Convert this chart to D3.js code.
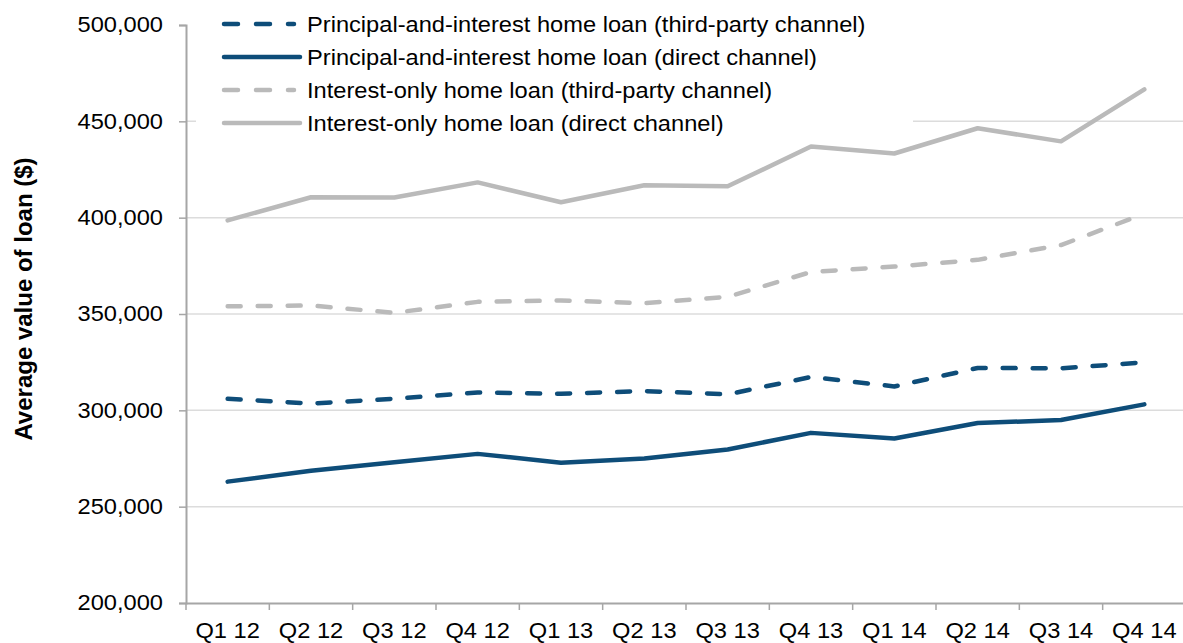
<!DOCTYPE html>
<html>
<head>
<meta charset="utf-8">
<script src="https://cdn.jsdelivr.net/npm/d3@7"></script>
<style>
  body { margin: 0; background: #fff; }
  text { font-family: "Liberation Sans", Arial, sans-serif; fill: #000; }
  .wide { transform-box: fill-box; }
</style>
</head>
<body>
<div id="vis"></div>
<script>
const QUARTERS = ["Q1 12", "Q2 12", "Q3 12", "Q4 12", "Q1 13", "Q2 13", "Q3 13", "Q4 13", "Q1 14", "Q2 14", "Q3 14", "Q4 14"];

const PI_THIRD = [306000, 303500, 306000, 309300, 308600, 310000, 308300, 317300, 312400, 322000, 321800, 324900];
const PI_DIRECT = [263000, 268600, 273000, 277400, 272800, 275000, 279700, 288300, 285400, 293400, 295000, 303100];
const IO_THIRD = [354000, 354400, 350600, 356300, 357000, 355600, 358900, 371800, 374600, 378100, 385800, 402000];
const IO_DIRECT = [398600, 410600, 410500, 418300, 408000, 416800, 416300, 436900, 433300, 446400, 439600, 466600];

const SERIES_NAMES = [
  "Principal-and-interest home loan (third-party channel)",
  "Principal-and-interest home loan (direct channel)",
  "Interest-only home loan (third-party channel)",
  "Interest-only home loan (direct channel)"
];
const Y_TICKS = [200000, 250000, 300000, 350000, 400000, 450000, 500000];

const NAVY = "#0e4d79";
const GREY = "#bababa";
const AXIS_GREY = "#a6a6a6";
const STRETCH = 1.1; // el texto del original esta algo ensanchado

const WIDTH = 1183;
const HEIGHT = 643;
const MARGIN = { top: 25, left: 186 };
const PLOT_BOTTOM = 603;

const SVG = d3.select("#vis").append("svg")
  .attr("width", WIDTH).attr("height", HEIGHT);

// escalas ---------------------------------------------------------------
const x = d3.scaleBand().domain(QUARTERS).range([MARGIN.left, MARGIN.left + 1000]).padding(0);
const y = d3.scaleLinear().domain([200000, 500000]).range([PLOT_BOTTOM, MARGIN.top]);

// grilla
SVG.append("g")
  .selectAll("line")
  .data(Y_TICKS.filter(d => d > 200000 && d < 500000))
  .join("line")
  .attr("x1", MARGIN.left).attr("x2", WIDTH)
  .attr("y1", d => y(d)).attr("y2", d => y(d))
  .attr("stroke", "#dcdcdc").attr("stroke-width", 1.5);

// ejes
const yAxis = SVG.append("g")
  .attr("transform", `translate(${MARGIN.left},0)`)
  .call(d3.axisLeft(y).tickValues(Y_TICKS).tickFormat(d3.format(",")).tickSize(7).tickPadding(16));

const xAxis = SVG.append("g")
  .attr("transform", `translate(0,${PLOT_BOTTOM})`)
  .call(d3.axisBottom(x).tickSize(0));

// ticks del eje x en los bordes de cada categoria
xAxis.selectAll(".edge")
  .data(QUARTERS)
  .join("line")
  .attr("class", "edge")
  .attr("x1", d => x(d)).attr("x2", d => x(d))
  .attr("y1", 0).attr("y2", 7)
  .attr("stroke", AXIS_GREY).attr("stroke-width", 1.5);

[yAxis, xAxis].forEach(g => {
  g.select(".domain").attr("stroke", AXIS_GREY).attr("stroke-width", 2);
  g.selectAll(".tick line").attr("stroke", AXIS_GREY).attr("stroke-width", 1.5);
  g.selectAll("text").style("font-size", "21.5px").attr("fill", "#111").classed("wide", true);
});
yAxis.selectAll(".tick text")
  .style("transform-origin", "right center")
  .style("transform", `scaleX(${STRETCH})`);
xAxis.selectAll(".tick text")
  .attr("y", 35).attr("dy", 0)
  .style("transform-origin", "center")
  .style("transform", `scaleX(${STRETCH})`);

// titulo eje y
SVG.append("text")
  .attr("transform", `translate(32,299) rotate(-90)`)
  .attr("text-anchor", "middle")
  .style("font-size", "24px")
  .style("font-weight", "bold")
  .text("Average value of loan ($)");

// lineas ---------------------------------------------------------------
const SERIES = [
  { name: SERIES_NAMES[0], values: PI_THIRD, color: NAVY, dash: "13,17", legendDash: "14,18", legEnd: 72 },
  { name: SERIES_NAMES[1], values: PI_DIRECT, color: NAVY, dash: null, legendDash: null, legEnd: 78 },
  { name: SERIES_NAMES[2], values: IO_THIRD, color: GREY, dash: "13,17", legendDash: "14,18", legEnd: 72 },
  { name: SERIES_NAMES[3], values: IO_DIRECT, color: GREY, dash: null, legendDash: null, legEnd: 78 }
];

const line = d3.line()
  .x((d, i) => x(QUARTERS[i]) + x.bandwidth() / 2)
  .y(d => y(d));

// leyenda (fondo blanco tapa la grilla)
const LEG_X = 222;
const LEG_Y = 24;
const LEG_STEP = 33;
const legend = SVG.append("g");
legend.append("rect")
  .attr("x", 196).attr("y", 4)
  .attr("width", 717).attr("height", 136)
  .attr("fill", "#fff");

SVG.append("g")
  .selectAll("path")
  .data(SERIES.slice().reverse())
  .join("path")
  .attr("d", d => line(d.values))
  .attr("fill", "none")
  .attr("stroke", d => d.color)
  .attr("stroke-width", 4.5)
  .attr("stroke-linecap", "round")
  .attr("stroke-linejoin", "round")
  .attr("stroke-dasharray", d => d.dash);

const items = legend.selectAll(".item")
  .data(SERIES)
  .join("g")
  .attr("class", "item")
  .attr("transform", (d, i) => `translate(${LEG_X},${LEG_Y + i * LEG_STEP})`);

items.append("line")
  .attr("x1", 2).attr("x2", d => d.legEnd)
  .attr("stroke", d => d.color)
  .attr("stroke-width", 4.5)
  .attr("stroke-linecap", "round")
  .attr("stroke-dasharray", d => d.legendDash);

items.append("text")
  .attr("x", 85)
  .attr("dy", "0.35em")
  .classed("wide", true)
  .style("font-size", "21.5px")
  .style("transform-origin", "left center")
  .style("transform", `scaleX(${STRETCH})`)
  .text(d => d.name);
</script>
</body>
</html>
